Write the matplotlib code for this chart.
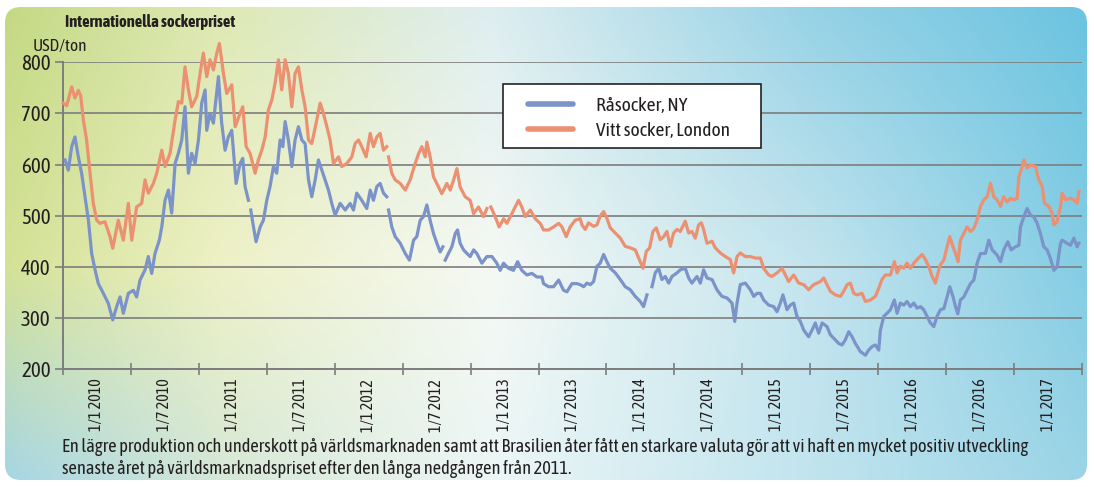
import numpy as np
import matplotlib
matplotlib.use("Agg")
import matplotlib.pyplot as plt
from matplotlib.patches import FancyBboxPatch, Rectangle
from matplotlib import font_manager

nan = np.nan

# years after 1 Jan 2010, USD/ton
red_t = [0.002, 0.027, 0.064, 0.088, 0.113, 0.130, 0.150, 0.174, 0.199, 0.223, 0.248, 0.272, 0.309, 0.346, 0.366,
         0.407, 0.444, 0.481, 0.506, 0.542, 0.579, 0.604, 0.628, 0.665, 0.690, 0.727, 0.751, 0.788, 0.825, 0.849,
         0.874, 0.898, 0.923, 0.947, 0.984, 1.009, 1.033, 1.058, 1.082, 1.107, 1.132, 1.151, 1.181, 1.205, 1.242,
         1.267, 1.303, 1.323, 1.348, 1.377, 1.414, 1.438, 1.463, 1.488, 1.512, 1.537, 1.561, 1.586, 1.610, 1.635,
         1.659, 1.684, 1.708, 1.733, 1.758, 1.782, 1.807, 1.831, 1.863, 1.893, 1.917, 1.942, 1.966, 1.991, 2.028,
         2.052, 2.089, 2.126, 2.150, 2.175, 2.199, 2.231, 2.261, 2.285, 2.310, 2.334, 2.359, 2.383, nan, 2.396,
         2.420, 2.445, 2.482, 2.519, 2.555, 2.592, 2.617, 2.641, 2.666, 2.678, 2.702, 2.727, 2.764, 2.788, 2.825,
         2.850, 2.874, 2.899, 2.923, 2.960, 2.997, 3.022, 3.058, 3.095, 3.120, nan, 3.149, 3.181, 3.210, 3.243,
         3.267, 3.304, 3.328, 3.353, 3.377, 3.402, 3.439, 3.476, 3.512, 3.537, 3.574, 3.611, 3.648, 3.672, 3.704,
         3.733, 3.770, 3.807, 3.819, 3.844, 3.868, 3.905, 3.930, 3.954, 3.979, 4.003, 4.028, 4.065, 4.102, 4.138,
         4.175, 4.212, 4.237, 4.269, 4.293, 4.318, 4.342, 4.367, 4.396, 4.421, 4.445, 4.470, 4.494, 4.519, 4.543,
         4.580, 4.605, 4.629, 4.654, 4.678, 4.698, 4.715, 4.740, 4.777, 4.801, 4.838, 4.875, 4.912, 4.936, 4.961,
         4.985, 5.022, 5.059, 5.096, 5.133, 5.157, 5.194, 5.218, 5.255, 5.292, 5.317, 5.341, 5.378, 5.415, 5.452,
         5.488, 5.525, 5.550, 5.574, 5.599, 5.623, 5.648, 5.685, 5.722, 5.746, 5.771, 5.795, 5.820, 5.844, 5.881,
         5.906, 5.943, 5.979, 6.004, 6.028, 6.053, 6.090, 6.119, 6.139, 6.163, 6.188, 6.212, 6.237, 6.262, 6.286,
         6.323, 6.348, 6.372, 6.397, 6.421, 6.446, 6.458, 6.483, 6.507, 6.527, 6.551, 6.569, 6.588, 6.605, 6.630,
         6.654, 6.679, 6.704, 6.728, 6.753, 6.777, 6.802, 6.826, 6.851, 6.875, 6.900, 6.924, 6.949, 6.974, 6.998,
         7.023, 7.035, 7.060, 7.072, 7.096, 7.121, 7.158, 7.182, 7.207, 7.224, 7.256, 7.280, 7.293, 7.317, 7.342,
         7.354, 7.379, 7.415, 7.440, 7.464, 7.477]
red_v = [720, 715, 752, 730, 745, 735, 687, 648, 583, 524, 491, 485, 488, 459, 436,
         491, 452, 524, 452, 517, 524, 570, 544, 563, 583, 628, 596, 622, 687, 723,
         720, 791, 746, 713, 733, 778, 818, 772, 805, 785, 818, 837, 778, 739, 756,
         674, 700, 713, 635, 622, 583, 609, 628, 654, 707, 726, 759, 805, 746, 805,
         778, 713, 778, 791, 746, 713, 648, 641, 681, 720, 700, 674, 648, 602, 615,
         596, 602, 615, 641, 648, 635, 615, 661, 635, 654, 661, 628, 635, nan, 615,
         583, 570, 563, 550, 570, 602, 621, 635, 615, 644, 615, 576, 556, 543, 563,
         550, 569, 592, 556, 537, 530, 504, 517, 498, 514, nan, 517, 498, 478, 494,
         485, 504, 517, 530, 517, 498, 511, 494, 485, 472, 472, 478, 485, 478, 459,
         478, 491, 494, 482, 473, 486, 479, 482, 499, 508, 495, 476, 466, 456, 440,
         437, 433, 417, 397, 430, 437, 469, 476, 453, 459, 469, 440, 466, 473, 469,
         489, 466, 469, 456, 482, 486, 473, 446, 450, 437, 427, 420, 414, 388, 420,
         427, 420, 420, 417, 417, 397, 384, 381, 388, 397, 384, 371, 384, 368, 365,
         355, 365, 368, 371, 378, 365, 352, 345, 342, 352, 365, 368, 348, 345, 348,
         332, 335, 342, 358, 375, 384, 384, 410, 388, 401, 397, 407, 397, 407, 414,
         424, 414, 401, 381, 368, 394, 404, 413, 439, 459, 439, 426, 410, 452, 465,
         478, 469, 475, 492, 518, 531, 537, 563, 537, 531, 518, 537, 527, 534, 531,
         534, 576, 596, 609, 593, 599, 596, 570, 557, 524, 518, 505, 482, 488, 518,
         544, 531, 534, 531, 524, 547]

blue_t = [0.015, 0.039, 0.064, 0.088, 0.113, 0.137, 0.162, 0.187, 0.211, 0.236, 0.260, 0.297, 0.334, 0.366, 0.395,
          0.420, 0.444, 0.481, 0.518, 0.542, 0.567, 0.604, 0.628, 0.653, 0.677, 0.709, 0.727, 0.751, 0.776, 0.800,
          0.825, 0.849, 0.874, 0.898, 0.923, 0.947, 0.972, 0.997, 1.021, 1.046, 1.058, 1.082, 1.107, 1.144, 1.168,
          1.193, 1.217, 1.242, 1.274, 1.303, 1.323, 1.340, 1.365, nan, 1.382, 1.402, 1.421, 1.451, 1.475, 1.500,
          1.524, 1.549, 1.573, 1.598, 1.618, 1.635, 1.659, 1.684, 1.708, 1.733, 1.758, 1.782, 1.807, 1.831, 1.856,
          1.880, 1.905, 1.929, 1.954, 1.978, 2.003, 2.040, 2.077, 2.113, 2.138, 2.162, 2.199, 2.236, 2.261, 2.285,
          2.310, 2.334, 2.359, 2.383, nan, 2.396, 2.420, 2.445, 2.482, 2.519, 2.550, 2.580, 2.604, 2.629, 2.653,
          2.678, 2.702, 2.727, 2.752, 2.776, 2.796, nan, 2.813, 2.837, 2.862, 2.887, 2.904, 2.923, 2.948, 2.973,
          2.997, 3.022, 3.046, 3.083, 3.120, 3.157, 3.193, 3.218, 3.242, 3.279, 3.316, 3.346, 3.377, 3.414, 3.451,
          3.488, 3.525, 3.537, 3.574, 3.611, 3.648, 3.684, 3.709, 3.746, 3.782, 3.807, 3.832, 3.856, 3.881, 3.905,
          3.930, 3.954, 3.979, 4.003, 4.028, 4.065, 4.102, 4.138, 4.175, 4.212, 4.249, 4.273, 4.298, nan, 4.335,
          4.359, 4.384, 4.408, 4.433, 4.458, 4.482, 4.519, 4.543, 4.580, 4.605, 4.629, 4.666, 4.691, 4.715, 4.740,
          4.777, 4.813, 4.850, 4.887, 4.924, 4.944, 4.961, 4.985, 5.022, 5.059, 5.084, 5.108, 5.133, 5.157, 5.194,
          5.231, 5.255, 5.280, 5.299, 5.329, 5.353, 5.378, 5.402, 5.427, 5.452, 5.488, 5.513, 5.537, 5.562, 5.587,
          5.623, 5.648, 5.673, 5.709, 5.734, 5.758, 5.783, 5.808, 5.832, 5.869, 5.906, 5.930, 5.955, 5.979, 6.004,
          6.016, 6.041, 6.065, 6.090, 6.119, 6.139, 6.163, 6.188, 6.212, 6.237, 6.262, 6.286, 6.311, 6.335, 6.360,
          6.384, 6.409, 6.433, 6.458, 6.483, 6.507, 6.527, 6.551, 6.569, 6.586, 6.605, 6.630, 6.654, 6.679, 6.704,
          6.728, 6.753, 6.789, 6.814, 6.839, 6.875, 6.900, 6.924, 6.954, 6.978, 7.010, 7.035, 7.047, 7.072, 7.096,
          7.121, 7.145, 7.170, 7.194, 7.219, 7.244, 7.268, 7.293, 7.317, 7.342, 7.354, 7.391, 7.415, 7.440, 7.464,
          7.477]
blue_v = [609, 589, 635, 654, 615, 583, 537, 491, 426, 394, 367, 348, 328, 296, 322,
          341, 309, 348, 354, 341, 374, 394, 420, 387, 426, 452, 478, 530, 550, 505,
          602, 622, 648, 713, 583, 622, 602, 648, 720, 746, 667, 700, 681, 772, 681,
          628, 654, 667, 563, 602, 612, 557, 530, nan, 511, 478, 449, 478, 491, 530,
          557, 596, 583, 648, 635, 684, 648, 596, 648, 674, 648, 641, 570, 537, 570,
          609, 589, 570, 550, 524, 501, 524, 511, 524, 511, 544, 530, 514, 550, 530,
          557, 563, 544, 537, nan, 511, 478, 459, 446, 426, 413, 452, 459, 491, 498,
          521, 491, 465, 446, 429, 439, nan, 413, 426, 439, 465, 472, 446, 433, 426,
          420, 433, 426, 407, 420, 420, 407, 393, 407, 397, 393, 410, 393, 384, 387,
          380, 380, 367, 361, 361, 374, 354, 351, 367, 367, 365, 361, 368, 365, 371,
          401, 407, 424, 410, 397, 388, 375, 361, 355, 342, 332, 322, 345, nan, 361,
          388, 397, 375, 381, 368, 381, 388, 394, 397, 378, 368, 381, 368, 394, 378,
          375, 355, 342, 339, 329, 293, 329, 365, 368, 355, 342, 348, 348, 335, 325,
          322, 312, 329, 345, 316, 325, 329, 303, 293, 276, 263, 276, 290, 270, 290,
          283, 267, 260, 250, 247, 257, 273, 263, 250, 234, 227, 237, 244, 247, 237,
          276, 303, 309, 316, 335, 309, 329, 325, 332, 322, 329, 319, 322, 316, 303,
          290, 283, 303, 316, 318, 341, 361, 341, 322, 308, 335, 341, 354, 367, 374,
          407, 426, 426, 452, 433, 423, 410, 433, 449, 433, 439, 442, 478, 498, 514,
          501, 498, 485, 465, 439, 433, 416, 393, 400, 446, 452, 446, 442, 456, 439,
          446]

start_year = 2010
tick_labels = ["1/1 2010", "1/7 2010", "1/1 2011", "1/7 2011", "1/1 2012", "1/7 2012", "1/1 2013", "1/7 2013",
               "1/1 2014", "1/7 2014", "1/1 2015", "1/7 2015", "1/1 2016", "1/7 2016", "1/1 2017"]
series_names = ["Råsocker, NY", "Vitt socker, London"]
title = "Internationella sockerpriset"
unit = "USD/ton"
caption = ("En lägre produktion och underskott på världsmarknaden samt att Brasilien åter fått en starkare valuta gör att vi haft en mycket positiv utveckling\n"
           "senaste året på världsmarknadspriset efter den långa nedgången från 2011.")

# condensed font if there is one, else DejaVu at smaller sizes
have = {f.name for f in font_manager.fontManager.ttflist}
narrow = [n for n in ["Asap Condensed", "Archivo Narrow", "Liberation Sans Narrow"] if n in have]
if narrow:
    plt.rcParams["font.family"] = [narrow[0], "DejaVu Sans"]
    k = 1.0
else:
    plt.rcParams["font.family"] = ["DejaVu Sans"]
    k = 0.74

BLUE = "#7b93c8"
RED = "#ec9072"
GRID = "#7d7d7d"
TXT = "#231f20"

W, H = 1094, 487
fig = plt.figure(figsize=(W / 100, H / 100), dpi=100)

# gradient background in a rounded box
bg = fig.add_axes([0, 0, 1, 1], zorder=-5)
bg.set_xlim(0, W)
bg.set_ylim(H, 0)
bg.axis("off")
cols = np.array([0.0, 0.2, 0.45, 0.75, 1.0])
rows = np.array([0.0, 0.55, 1.0])
ctrl = np.array([
    [(196, 217, 132), (222, 233, 180), (222, 238, 240), (150, 210, 230), (108, 196, 224)],
    [(212, 226, 150), (238, 241, 198), (245, 249, 244), (195, 228, 238), (132, 205, 228)],
    [(166, 214, 228), (214, 232, 214), (236, 246, 246), (192, 228, 238), (155, 212, 230)],
], dtype=float) / 255
gx = np.linspace(0, 1, 300)
gy = np.linspace(0, 1, 150)
tmp = np.stack([[np.interp(gx, cols, ctrl[r, :, c]) for c in range(3)] for r in range(3)])
img = np.zeros((len(gy), len(gx), 3))
for c in range(3):
    for i in range(len(gx)):
        img[:, i, c] = np.interp(gy, rows, tmp[:, c, i])
box = FancyBboxPatch((5, 7), W - 12, H - 14, boxstyle="round,pad=0,rounding_size=16",
                     transform=bg.transData, facecolor="none", edgecolor="none")
bg.add_patch(box)
im = bg.imshow(img, extent=(5, W - 7, H - 7, 7), aspect="auto", interpolation="bilinear")
im.set_clip_path(box)

ax = fig.add_axes([63 / W, 1 - 369 / H, 1019 / W, 306.7 / H])
ax.set_facecolor("none")
ax.set_xlim(start_year, start_year + 7.5)
ax.set_ylim(200, 800)

ax.plot(start_year + np.array(blue_t), blue_v, color=BLUE, lw=2.3, label=series_names[0], clip_on=False,
        solid_joinstyle="round", zorder=3)
ax.plot(start_year + np.array(red_t), red_v, color=RED, lw=2.3, label=series_names[1], clip_on=False,
        solid_joinstyle="round", zorder=3)

ax.set_yticks(range(200, 801, 100))
ax.yaxis.grid(True, color=GRID, lw=1.2)
ax.set_axisbelow(True)
ax.tick_params(axis="y", length=6, width=1.2, color=GRID, labelsize=15 * k, labelcolor=TXT, pad=3)

ax.set_xticks(start_year + np.arange(0, 7.51, 0.5))
ax.set_xticklabels([])
ax.set_xticks(start_year + 0.25 + 0.5 * np.arange(len(tick_labels)), minor=True)
ax.set_xticklabels(tick_labels, minor=True, rotation=90, va="top", ha="center")
ax.tick_params(axis="x", which="major", direction="inout", length=9, width=1.2, color=GRID)
ax.tick_params(axis="x", which="minor", length=0, labelsize=11.5 * k, labelcolor=TXT, pad=7)

for s in ["top", "right"]:
    ax.spines[s].set_visible(False)
for s in ["left", "bottom"]:
    ax.spines[s].set_color(GRID)
    ax.spines[s].set_linewidth(1.4)

# legend box drawn on its own, entries placed inside it
ax.add_patch(Rectangle((0.432, 0.72), 0.253, 0.209, transform=ax.transAxes, facecolor="white",
                       edgecolor="#222222", lw=1.2, zorder=5, clip_on=False))
leg = ax.legend(loc="center left", bbox_to_anchor=(0.4563, 0.8168), fontsize=14 * k, frameon=False,
                handlelength=2.3, handletextpad=1.2, borderpad=0, labelspacing=0.38, borderaxespad=0)
leg.set_zorder(6)
for ln in leg.get_lines():
    ln.set_linewidth(4)
    ln.set_solid_capstyle("round")
for t in leg.get_texts():
    t.set_color(TXT)

fig.text(65 / W, 1 - 22 / H, title, fontsize=12 * k, fontweight="bold", color=TXT, va="center", ha="left")
fig.text(33 / W, 1 - 46 / H, unit, fontsize=12.5 * k, color=TXT, va="center", ha="left")
fig.text(62 / W, 1 - 458 / H, caption, fontsize=13.25 * k, color=TXT, va="center", ha="left", linespacing=1.28)

fig.savefig("out.png", dpi=100)
